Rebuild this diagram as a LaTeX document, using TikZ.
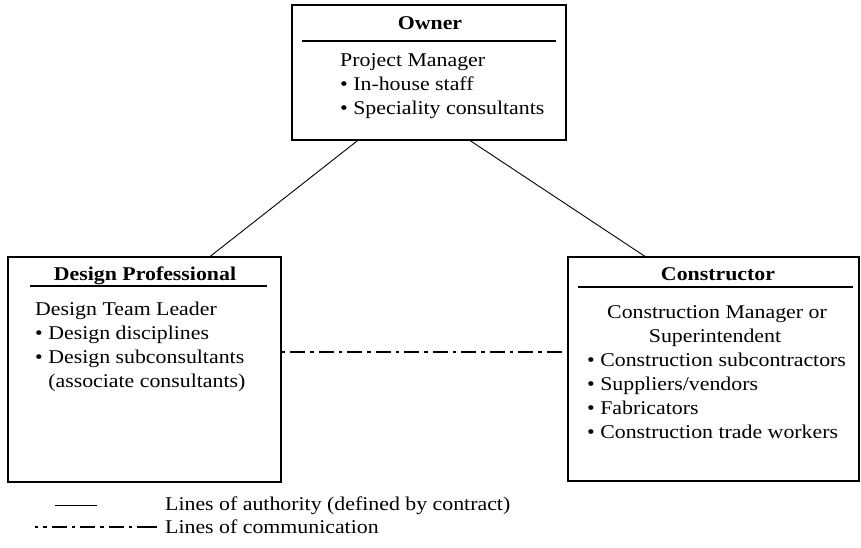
\documentclass[tikz,border=0pt]{standalone}
\usepackage{fontspec}
\setmainfont[FakeStretch=1.12]{Liberation Serif}
\usetikzlibrary{calc}
\begin{document}
\begin{tikzpicture}[x=1pt,y=-1pt,
  box/.style={draw, line width=1.5pt, inner sep=0pt, rectangle},
  sepline/.style={line width=1.1pt},
  authority/.style={line width=0.9pt},
  comm/.style={line width=2.8pt, dash pattern=on 3.5pt off 5pt on 15pt off 5pt},
  txt/.style={font=\fontsize{19.5}{24}\selectfont, inner sep=0pt},
  ttl/.style={txt, font=\fontsize{19.5}{24}\selectfont\bfseries, anchor=base},
  list/.style={txt, align=left, anchor=base west},
]
\useasboundingbox (0,0) rectangle (861,548);

% boxes
\node[box, minimum width=274pt, minimum height=135pt] (owner) at (429,72.5) {};
\node[box, minimum width=273pt, minimum height=225pt] (design) at (144.5,369.5) {};
\node[box, minimum width=291pt, minimum height=224pt] (cons) at (713.5,369) {};

% owner content (base anchor = last line)
\node[ttl] (ownert) at (430,30) {Owner};
\draw[sepline] (302,41) -- (556,41);
\node[list] (ownerl) at (340,115) {Project Manager\\• In-house staff\\• Speciality consultants};

% design content
\node[ttl] (designt) at (145,280) {Design Professional};
\draw[sepline] (30,286) -- (267,286);
\node[list] (designl) at (35,387) {Design Team Leader\\• Design disciplines\\• Design subconsultants\\\hspace*{0pt}\phantom{•\ }(associate consultants)};

% constructor content
\node[ttl] (const) at (718,280) {Constructor};
\draw[sepline] (578,287) -- (853,287);
\node[txt, anchor=base] (consm1) at (717,318) {Construction Manager or};
\node[txt, anchor=base] (consm2) at (715,342) {Superintendent};
\node[list] (consl) at (587,438) {• Construction subcontractors\\• Suppliers/vendors\\• Fabricators\\• Construction trade workers};

% connectors
\draw[authority] ($(owner.south west)!0.24!(owner.south east)$) -- ($(design.north west)!0.74!(design.north east)$);
\draw[authority] ($(owner.south west)!0.65!(owner.south east)$) -- ($(cons.north west)!0.265!(cons.north east)$);
\coordinate (cy) at (0,352);
\draw[comm] (design.east |- cy) -- (cons.west |- cy);

% legend
\draw[authority] (55,505) -- (97,505);
\node[txt, anchor=base west] (leg1) at (165,510) {Lines of authority (defined by contract)};
\draw[line width=2.8pt, dash pattern=on 3pt off 5pt on 3.5pt off 5pt on 15pt off 5pt on 3.5pt off 5pt on 15pt off 5pt on 3.5pt off 5pt on 15pt off 5pt on 3.5pt off 5pt on 40pt off 5pt] (35,527) -- (157,527);
\node[txt, anchor=base west] (leg2) at (165,533) {Lines of communication};
\end{tikzpicture}
\end{document}
